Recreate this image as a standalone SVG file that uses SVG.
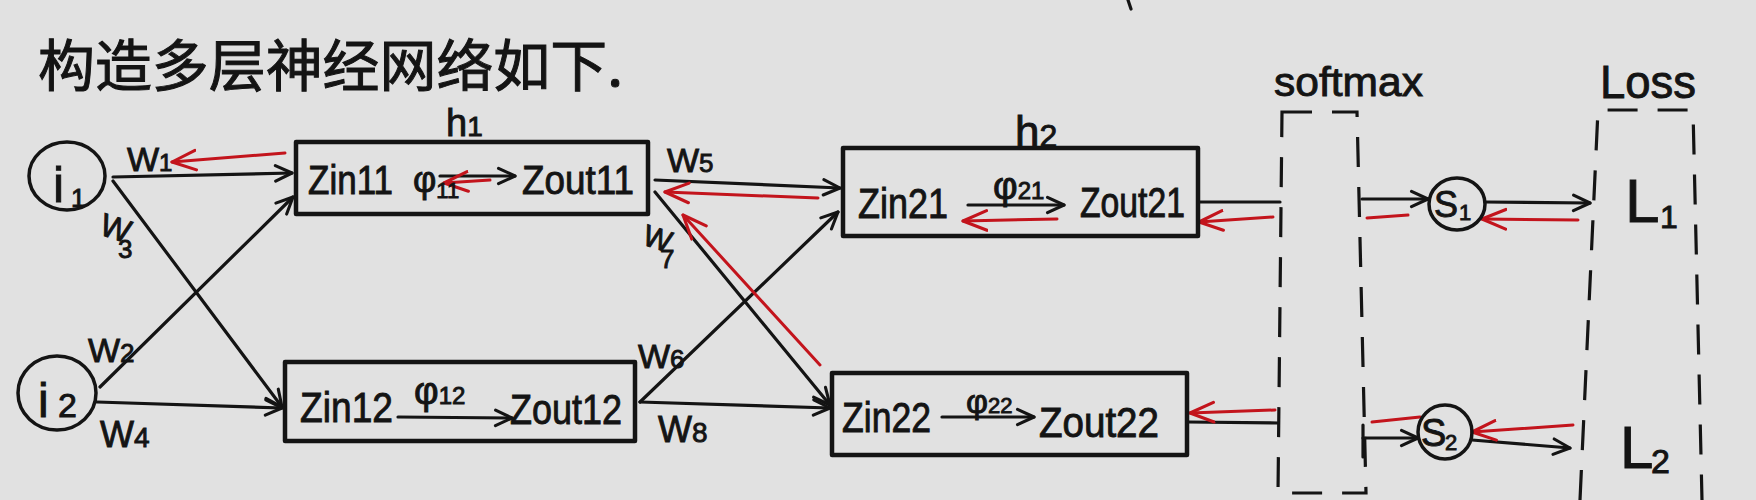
<svg xmlns="http://www.w3.org/2000/svg" width="1756" height="500" viewBox="0 0 1756 500">
<defs>
<style>
.t{font-family:"Liberation Sans","DejaVu Sans",sans-serif;fill:#141414;stroke:#141414;stroke-width:0.9}
.cjk{font-family:"Noto Sans CJK SC","Noto Sans CJK JP",sans-serif;fill:#141414;stroke:#141414;stroke-width:1}
.box{fill:none;stroke:#141414;stroke-width:4.5;stroke-linejoin:round}
.nd{fill:none;stroke:#141414;stroke-width:3.5}
.k{fill:none;stroke:#141414;stroke-width:3.2;stroke-linecap:round}
.ka{fill:none;stroke:#141414;stroke-width:3.2;stroke-linecap:round;marker-end:url(#ab)}
.r{fill:none;stroke:#c3141c;stroke-width:3;stroke-linecap:round}
.ra{fill:none;stroke:#c3141c;stroke-width:3;stroke-linecap:round;marker-end:url(#ar)}
.dash{fill:none;stroke:#141414;stroke-width:3.2;stroke-dasharray:30 20}
</style>
<marker id="ab" viewBox="0 0 20 20" refX="18" refY="10" markerWidth="22" markerHeight="22" markerUnits="userSpaceOnUse" orient="auto">
<path d="M3,3 L18,10 L3,17" fill="none" stroke="#141414" stroke-width="2.8" stroke-linecap="round" stroke-linejoin="round"/>
</marker>
<marker id="ar" viewBox="0 0 20 20" refX="18" refY="10" markerWidth="28" markerHeight="28" markerUnits="userSpaceOnUse" orient="auto">
<path d="M1,3 L18,10 L1,17" fill="none" stroke="#c3141c" stroke-width="2.2" stroke-linecap="round" stroke-linejoin="round"/>
</marker>
</defs>
<rect x="0" y="0" width="1756" height="500" fill="#e1e1e1"/>

<text class="cjk" x="38" y="86" font-size="56" textLength="585" lengthAdjust="spacingAndGlyphs">构造多层神经网络如下.</text>
<path class="k" d="M1128,0 L1131,9"/>

<g id="connectors">
<path class="ka" d="M113,177 L292,173"/>
<path class="ka" d="M113,181 L282,407"/>
<path class="ka" d="M100,387 L293,197"/>
<path class="ka" d="M97,402 L282,408"/>
<path class="ka" d="M655,180 L840,188"/>
<path class="ka" d="M655,192 L830,405"/>
<path class="ka" d="M640,402 L838,212"/>
<path class="ka" d="M640,402 L830,408"/>
<path class="k" d="M1198,202 L1280,202"/>
<path class="k" d="M1188,422 L1278,423"/>
<path class="ka" d="M1362,199 L1428,199"/>
<path class="ka" d="M1485,202 L1590,203"/>
<path class="k" d="M1363,425 L1363,457"/>
<path class="ka" d="M1363,438 L1418,438"/>
<path class="ka" d="M1472,440 L1570,448"/>
<path class="ka" d="M440,176 L515,176"/>
<path class="ka" d="M398,417 L512,418"/>
<path class="ka" d="M968,205 L1064,205"/>
<path class="ka" d="M942,417 L1034,417"/>
<path class="ra" d="M285,153 L172,162"/>
<path class="ra" d="M490,180 L444,183"/>
<path class="ra" d="M818,198 L665,192"/>
<path class="ra" d="M820,365 L683,215"/>
<path class="ra" d="M1057,219 L963,221"/>
<path class="ra" d="M1273,217 L1199,222"/>
<path class="ra" d="M1275,410 L1190,413"/>
<path class="r" d="M1367,218 L1408,215"/>
<path class="ra" d="M1578,220 L1482,219"/>
<path class="r" d="M1372,422 L1420,417"/>
<path class="ra" d="M1573,425 L1472,432"/>
</g>

<g id="i1">
<ellipse class="nd" cx="67" cy="176" rx="38" ry="34"/>
<text class="t" x="53" y="202" font-size="50">i</text>
<text class="t" x="71" y="207" font-size="26">1</text>
</g>
<g id="i2">
<ellipse class="nd" cx="57" cy="393" rx="39" ry="37"/>
<text class="t" x="38" y="417" font-size="48">i</text>
<text class="t" x="58" y="417" font-size="34">2</text>
</g>

<g id="weights">
<text class="t" x="127" y="171" font-size="34">W<tspan font-size="24">1</tspan></text>
<text class="t" font-size="32" transform="translate(98,234) rotate(18)">W</text>
<text class="t" x="118" y="258" font-size="26">3</text>
<text class="t" x="88" y="362" font-size="34">W<tspan font-size="26">2</tspan></text>
<text class="t" x="100" y="447" font-size="36">W<tspan font-size="28">4</tspan></text>
<text class="t" x="667" y="172" font-size="34">W<tspan font-size="26">5</tspan></text>
<text class="t" font-size="30" transform="translate(641,244) rotate(18)">W</text>
<text class="t" x="660" y="268" font-size="26">7</text>
<text class="t" x="638" y="368" font-size="34">W<tspan font-size="26">6</tspan></text>
<text class="t" x="658" y="442" font-size="36">W<tspan font-size="28">8</tspan></text>
</g>

<g id="h11">
<text class="t" x="446" y="136" font-size="38">h<tspan font-size="28">1</tspan></text>
<rect class="box" x="296" y="142" width="352" height="72"/>
<text class="t" x="308" y="194" font-size="40" textLength="85" lengthAdjust="spacingAndGlyphs">Zin11</text>
<text class="t" x="413" y="192" font-size="36">φ<tspan font-size="22" dy="6">11</tspan></text>
<text class="t" x="522" y="194" font-size="40" textLength="112" lengthAdjust="spacingAndGlyphs">Zout11</text>
</g>

<g id="h12">
<rect class="box" x="285" y="362" width="350" height="79"/>
<text class="t" x="300" y="422" font-size="42" textLength="93" lengthAdjust="spacingAndGlyphs">Zin12</text>
<text class="t" x="414" y="404" font-size="38">φ<tspan font-size="24">12</tspan></text>
<text class="t" x="510" y="424" font-size="42" textLength="112" lengthAdjust="spacingAndGlyphs">Zout12</text>
</g>

<g id="h21">
<text class="t" x="1015" y="147" font-size="44">h<tspan font-size="32">2</tspan></text>
<rect class="box" x="843" y="148" width="355" height="88"/>
<text class="t" x="858" y="218" font-size="42" textLength="90" lengthAdjust="spacingAndGlyphs">Zin21</text>
<text class="t" x="993" y="199" font-size="38">φ<tspan font-size="24">21</tspan></text>
<text class="t" x="1080" y="217" font-size="42" textLength="105" lengthAdjust="spacingAndGlyphs">Zout21</text>
</g>

<g id="h22">
<rect class="box" x="832" y="373" width="355" height="82"/>
<text class="t" x="842" y="432" font-size="42" textLength="89" lengthAdjust="spacingAndGlyphs">Zin22</text>
<text class="t" x="966" y="413" font-size="34">φ<tspan font-size="22">22</tspan></text>
<text class="t" x="1039" y="437" font-size="42" textLength="120" lengthAdjust="spacingAndGlyphs">Zout22</text>
</g>

<g id="softmax">
<text class="t" x="1274" y="96" font-size="40" textLength="149" lengthAdjust="spacingAndGlyphs">softmax</text>
<path class="dash" d="M1282,112 L1357,112 L1366,493 L1278,493 Z"/>
</g>

<g id="s1">
<ellipse class="nd" cx="1457" cy="204" rx="28" ry="26"/>
<text class="t" x="1434" y="217" font-size="36">S</text>
<text class="t" x="1459" y="220" font-size="22">1</text>
</g>
<g id="s2">
<ellipse class="nd" cx="1445" cy="432" rx="27" ry="27"/>
<text class="t" x="1421" y="446" font-size="38">S</text>
<text class="t" x="1445" y="450" font-size="22">2</text>
</g>

<g id="loss">
<text class="t" x="1600" y="98" font-size="46" textLength="96" lengthAdjust="spacingAndGlyphs">Loss</text>
<path class="dash" d="M1580,500 L1598,110 L1693,110 L1702,500" stroke-dasharray="24 28"/>
</g>

<g id="l1">
<text class="t" x="1625" y="222" font-size="62">L</text>
<text class="t" x="1660" y="228" font-size="32">1</text>
</g>
<g id="l2">
<text class="t" x="1620" y="468" font-size="60">L</text>
<text class="t" x="1651" y="473" font-size="34">2</text>
</g>
</svg>
